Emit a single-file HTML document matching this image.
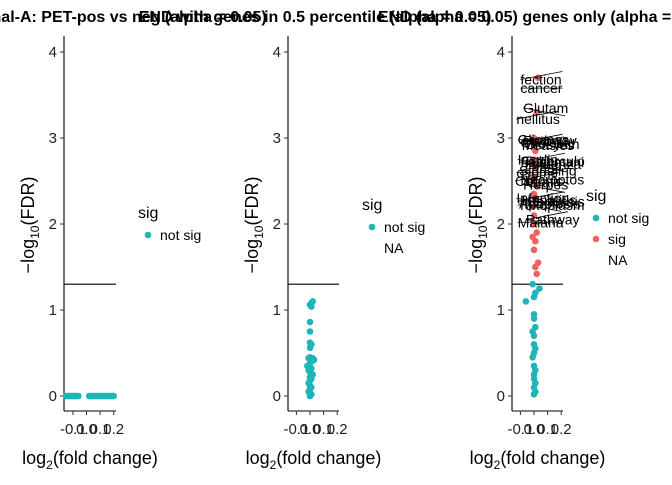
<!DOCTYPE html>
<html><head><meta charset="utf-8"><style>
body{margin:0;background:#fff;width:672px;height:480px;overflow:hidden;font-family:"Liberation Sans",Arial,sans-serif}
svg text{font-family:"Liberation Sans",Arial,sans-serif}
</style></head><body>
<svg id="chart" width="672" height="480"></svg>
<script>
// Data
const xTicks=[-0.1,0.0,0.1,0.2];
const xTickLabels=["-0.1","0.0","0.1","0.2"];
const yTicks=[0,1,2,3,4];
const threshold=1.3;
const p1x=[-0.15,-0.14,-0.13,-0.12,-0.11,-0.1,-0.09,-0.08,-0.07,-0.06,0.02,0.03,0.04,0.05,0.06,0.07,0.08,0.09,0.1,0.11,0.12,0.13,0.14,0.15,0.16,0.17,0.18,0.19,0.2];
const p1y=p1x.map(()=>0);
const p2y=[0,0.02,0.05,0.08,0.1,0.12,0.15,0.18,0.2,0.22,0.25,0.28,0.3,0.32,0.35,0.38,0.4,0.42,0.44,0.44,0.45,0.56,0.6,0.62,0.75,0.86,1.04,1.06,1.08,1.1];
const p2x=[0.0,0.01,-0.01,0.0,0.01,0.0,-0.01,0.0,0.01,0.0,0.02,0.0,-0.01,0.01,-0.02,0.0,0.01,0.03,-0.01,0.02,0.0,0.0,0.01,0.0,0.0,0.0,0.01,0.0,0.01,0.02];
const p3y=[0.02,0.05,0.1,0.15,0.2,0.25,0.3,0.35,0.45,0.5,0.55,0.6,0.7,0.75,0.8,0.9,0.95,1.1,1.15,1.2,1.25,1.3,1.42,1.5,1.55,1.7,1.8,1.85,1.9,2.0,2.1,2.2,2.3,2.35,2.45,2.55,2.65,2.75,2.85,2.95,3.0,3.3,3.7];
const p3x=[0.0,0.01,0.0,0.01,0.0,0.0,0.01,0.0,-0.01,0.0,0.01,0.0,0.0,-0.01,0.01,0.0,0.0,-0.06,0.0,0.01,0.04,-0.01,0.02,0.01,0.03,0.0,0.01,-0.01,0.02,0.0,0.0,-0.01,0.01,0.0,0.02,0.0,0.01,0.0,0.01,0.02,0.0,0.02,0.03];
const p3labels=["fection","cancer","Glutam","nellitus","Gliomas","Pathway","Cholest","Biosynth","Insulin","Tuberculo","osome","Leishmani","Chronic","Viral","Infection","Hepatitis","Pertussis","Apoptosis","Pathway","Necroptos","Influenza","Measles","Toxoplasm","Herpes","Signaling","Malaria"];
const p3labelY=[3.68,3.58,3.35,3.22,2.98,2.97,2.95,2.93,2.75,2.73,2.6,2.72,2.5,2.48,2.3,2.28,2.26,2.24,2.05,2.52,2.7,2.92,2.22,2.46,2.62,2.02];
const p3labelX=[-0.1,-0.1,-0.08,-0.13,-0.12,-0.08,-0.1,-0.06,-0.12,-0.08,-0.13,-0.1,-0.14,-0.06,-0.13,-0.09,-0.05,-0.11,-0.06,-0.1,-0.07,-0.09,-0.12,-0.08,-0.11,-0.12];

const NS="http://www.w3.org/2000/svg";
const svg=document.getElementById('chart');
function el(t,a,p){const e=document.createElementNS(NS,t);for(const k in a)e.setAttribute(k,a[k]);(p||svg).appendChild(e);return e;}
const teal="#1fb5b8",red="#f06262";
const panels=[{left:64,right:116,zero:86.5,title:"Luminal-A: PET-pos vs neg (alpha = 0.05)",tx:110},
{left:288,right:339,zero:310,title:"END with genes in 0.5 percentile (alpha = 0.05)",tx:315},
{left:512,right:563,zero:534,title:"END (alpha = 0.05) genes only (alpha = 0.05)",tx:545}];
function yS(v){return 396-v*86;}
panels.forEach((p,i)=>{
  const g=el('g',{});
  
  
  const xS=v=>p.zero+v*136;
  const ya=el('line',{x1:p.left,x2:p.left,y1:36,y2:411,stroke:'#000','stroke-width':1.1},g);
  
  const xa=el('line',{x1:p.left,x2:p.right,y1:411,y2:411,stroke:'#000','stroke-width':1.1},g);
  
  yTicks.forEach(t=>{
    el('line',{x1:p.left-4,x2:p.left,y1:yS(t),y2:yS(t),stroke:'#333'},g);
    const tt=el('text',{x:p.left-7,y:yS(t)+5,'text-anchor':'end','font-size':15,fill:'#222'},g);tt.textContent=t;
    
  });
  xTicks.forEach((t,j)=>{
    el('line',{x1:xS(t),x2:xS(t),y1:411,y2:415,stroke:'#333'},g);
    const tt=el('text',{x:xS(t),y:434,'text-anchor':'middle','font-size':15,fill:'#222'},g);tt.textContent=xTickLabels[j];
    
  });
  const yt=el('text',{transform:`translate(${p.left-30},225) rotate(-90)`,'text-anchor':'middle','font-size':18},g);
  yt.innerHTML='\u2212log<tspan font-size="12" dy="5">10</tspan><tspan dy="-5">(FDR)</tspan>';
  
  const xt=el('text',{x:(p.left+p.right)/2,y:464,'text-anchor':'middle','font-size':18},g);
  xt.innerHTML='log<tspan font-size="12" dy="5">2</tspan><tspan dy="-5">(fold change)</tspan>';
  
  const hl=el('line',{x1:p.left,x2:p.right,y1:yS(threshold),y2:yS(threshold),stroke:'#000','stroke-width':1.2},g);
  
  p.xS=xS;p.g=g;
});
function pts(p,xs,ys,sigColor){
  xs.forEach((x,k)=>{const y=ys[k];
    const c=el('circle',{cx:p.xS(x),cy:yS(y),r:3.3,fill:(sigColor&&y>threshold)?red:teal},p.g);
    });
}
pts(panels[0],p1x,p1y,false);
pts(panels[1],p2x,p2y,false);
pts(panels[2],p3x,p3y,true);
p3labels.forEach((l,k)=>{
  const p=panels[2];
  const sx=p.xS(p3labelX[k]), sy=yS(p3labelY[k]);
  const seg=el('line',{x1:sx,y1:sy,x2:sx+42,y2:sy+((k%3)-1)*8,stroke:'#000','stroke-width':0.8},p.g);
  
  const t=el('text',{x:sx,y:sy+5,'font-size':14,fill:'#000'},p.g);t.textContent=l;
  
});
panels.forEach(p=>{
  const t=el('text',{x:p.tx,y:22,'text-anchor':'middle','font-size':16,'font-weight':'bold'});t.textContent=p.title;
  
});
const legends=[{x:138,y:213,items:[["not sig",teal]]},{x:362,y:205,items:[["not sig",teal],["NA",null]]},{x:586,y:196,items:[["not sig",teal],["sig",red],["NA",null]]}];
legends.forEach(L=>{
  const g=el('g',{});
  
  const h=el('text',{x:L.x,y:L.y+5,'font-size':16},g);h.textContent='sig';
  L.items.forEach((it,k)=>{
    const yy=L.y+22+k*21;
    if(it[1])el('circle',{cx:L.x+10,cy:yy,r:3.3,fill:it[1]},g);
    const t=el('text',{x:L.x+22,y:yy+5,'font-size':14},g);t.textContent=it[0];
    
  });
});
</script>
</body></html>
